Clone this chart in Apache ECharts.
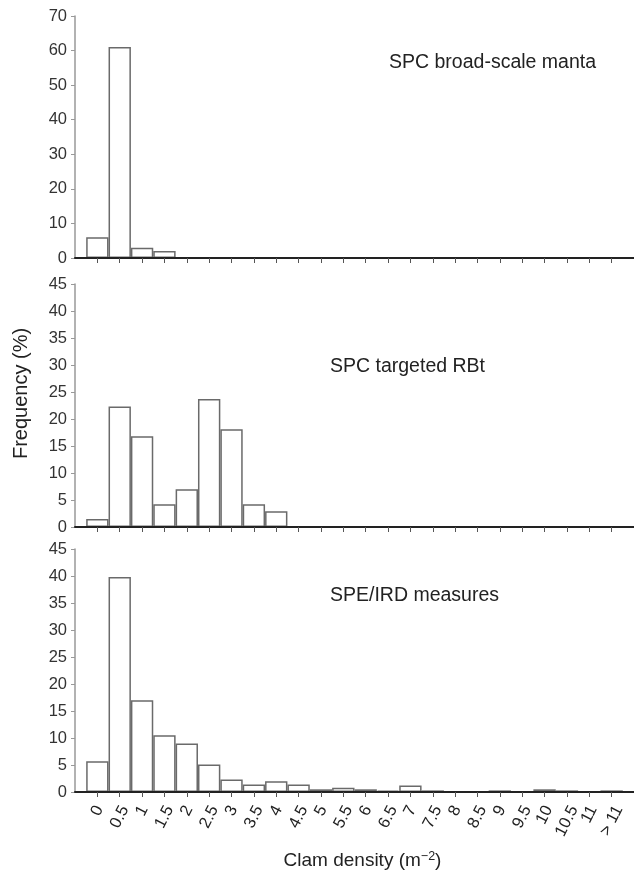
<!DOCTYPE html>
<html>
<head>
<meta charset="utf-8">
<script src="https://cdn.jsdelivr.net/npm/echarts@6/dist/echarts.min.js"></script>
<style>
  html, body { margin: 0; padding: 0; background: #fff; }
  #chart { width: 634px; height: 874px; }
</style>
</head>
<body>
<div id="chart"></div>
<script>
// density classes (m-2)
var categories = ['0', '0.5', '1', '1.5', '2', '2.5', '3', '3.5', '4', '4.5', '5', '5.5',
  '6', '6.5', '7', '7.5', '8', '8.5', '9', '9.5', '10', '10.5', '11', '> 11'];

// frequency (%) per class
var mantaValues = [6, 61, 3, 2, 0, 0, 0, 0, 0, 0, 0, 0, 0, 0, 0, 0, 0, 0, 0, 0, 0, 0, 0, 0];
var rbtValues = [1.5, 22.3, 16.8, 4.2, 7.0, 23.7, 18.1, 4.2, 2.9, 0, 0, 0, 0, 0, 0, 0, 0, 0, 0, 0, 0, 0, 0, 0];
var irdValues = [5.7, 39.8, 17.0, 10.5, 9.0, 5.1, 2.3, 1.4, 2.0, 1.4, 0.5, 0.8, 0.5, 0.25, 1.2, 0.3, 0, 0, 0.3, 0, 0.5, 0.3, 0, 0.3];

var panelTitles = ['SPC broad-scale manta', 'SPC targeted RBt', 'SPE/IRD measures'];
var yMax = [70, 45, 45];
var yStep = [10, 5, 5];

var FONT = 'Liberation Sans, Arial, sans-serif';
var LABEL_FS = 16.5;
var ROT = 63;
var chart = echarts.init(document.getElementById('chart'));

var tickIdx = categories.map(function (c, i) { return i; });
var grids = [
  { left: 75, width: 561, top: 16, height: 242 },
  { left: 75, width: 561, top: 284, height: 243 },
  { left: 75, width: 561, top: 549, height: 243 }
];

// rotated labels sit centred under the tick with their top edge at a fixed gap,
// so each one gets its own padding (shifts it straight down in screen space)
var ctx = document.createElement('canvas').getContext('2d');
ctx.font = LABEL_FS + 'px "Liberation Sans"';
var rad = ROT * Math.PI / 180;
var labelRich = {};
categories.forEach(function (c, i) {
  var w = ctx.measureText(c).width;
  var d = (w * Math.sin(rad) + LABEL_FS * Math.cos(rad)) / 2;
  labelRich['c' + i] = {
    fontSize: LABEL_FS,
    fontFamily: FONT,
    color: '#222',
    padding: [2 * d * Math.cos(rad), 2 * d * Math.sin(rad), 0, 0]
  };
});

function toPairs(arr) {
  return arr.map(function (v, i) { return [i, v]; });
}

var xAxes = grids.map(function (g, k) {
  return {
    type: 'value',
    gridIndex: k,
    min: -1,
    max: 24,
    z: 3,
    splitLine: { show: false },
    axisLine: { onZero: false, lineStyle: { color: '#222', width: 2 } },
    axisTick: {
      customValues: tickIdx,
      length: 5,
      lineStyle: { color: '#555', width: 1 }
    },
    axisLabel: {
      show: k === 2,
      customValues: tickIdx,
      rotate: ROT,
      align: 'center',
      verticalAlign: 'middle',
      margin: 11,
      fontSize: LABEL_FS,
      color: '#222',
      fontFamily: FONT,
      rich: labelRich,
      formatter: function (v) { return '{c' + v + '|' + categories[v] + '}'; }
    },
    name: k === 2 ? '{a|Clam density (m}{s|−2}{a|)}' : '',
    nameLocation: 'middle',
    nameGap: 58,
    nameTextStyle: {
      padding: [0, 0, 0, 16],
      rich: {
        a: { fontSize: 19, color: '#222', fontFamily: FONT },
        s: { fontSize: 12.5, color: '#222', fontFamily: FONT, padding: [0, 0, 9, 0] }
      }
    }
  };
});

var yAxes = grids.map(function (g, k) {
  return {
    type: 'value',
    gridIndex: k,
    min: 0,
    max: yMax[k],
    interval: yStep[k],
    splitLine: { show: false },
    axisLine: { show: true, onZero: false, lineStyle: { color: '#999', width: 1.5 } },
    axisTick: { show: true, length: 4, lineStyle: { color: '#999' } },
    axisLabel: { fontSize: 16.5, color: '#333', fontFamily: FONT, margin: 8 },
    name: k === 1 ? 'Frequency (%)' : '',
    nameLocation: 'middle',
    nameGap: 44,
    nameTextStyle: { fontSize: 20, color: '#222', fontFamily: FONT, padding: [0, 0, 0, 24] }
  };
});

var seriesData = [mantaValues, rbtValues, irdValues];
var series = seriesData.map(function (vals, k) {
  return {
    type: 'bar',
    xAxisIndex: k,
    yAxisIndex: k,
    barWidth: '100%',
    data: toPairs(vals),
    itemStyle: { color: '#fff', borderColor: '#6a6a6a', borderWidth: 1.5 },
    silent: true
  };
});

var titles = [
  { text: panelTitles[0], left: 389, top: 53 },
  { text: panelTitles[1], left: 330, top: 357 },
  { text: panelTitles[2], left: 330, top: 586 }
].map(function (t) {
  t.padding = 0;
  t.textStyle = { fontSize: 19.5, fontWeight: 'normal', color: '#222', fontFamily: FONT };
  return t;
});

chart.setOption({
  animation: false,
  backgroundColor: '#fff',
  title: titles,
  grid: grids,
  xAxis: xAxes,
  yAxis: yAxes,
  series: series
});
</script>
</body>
</html>
